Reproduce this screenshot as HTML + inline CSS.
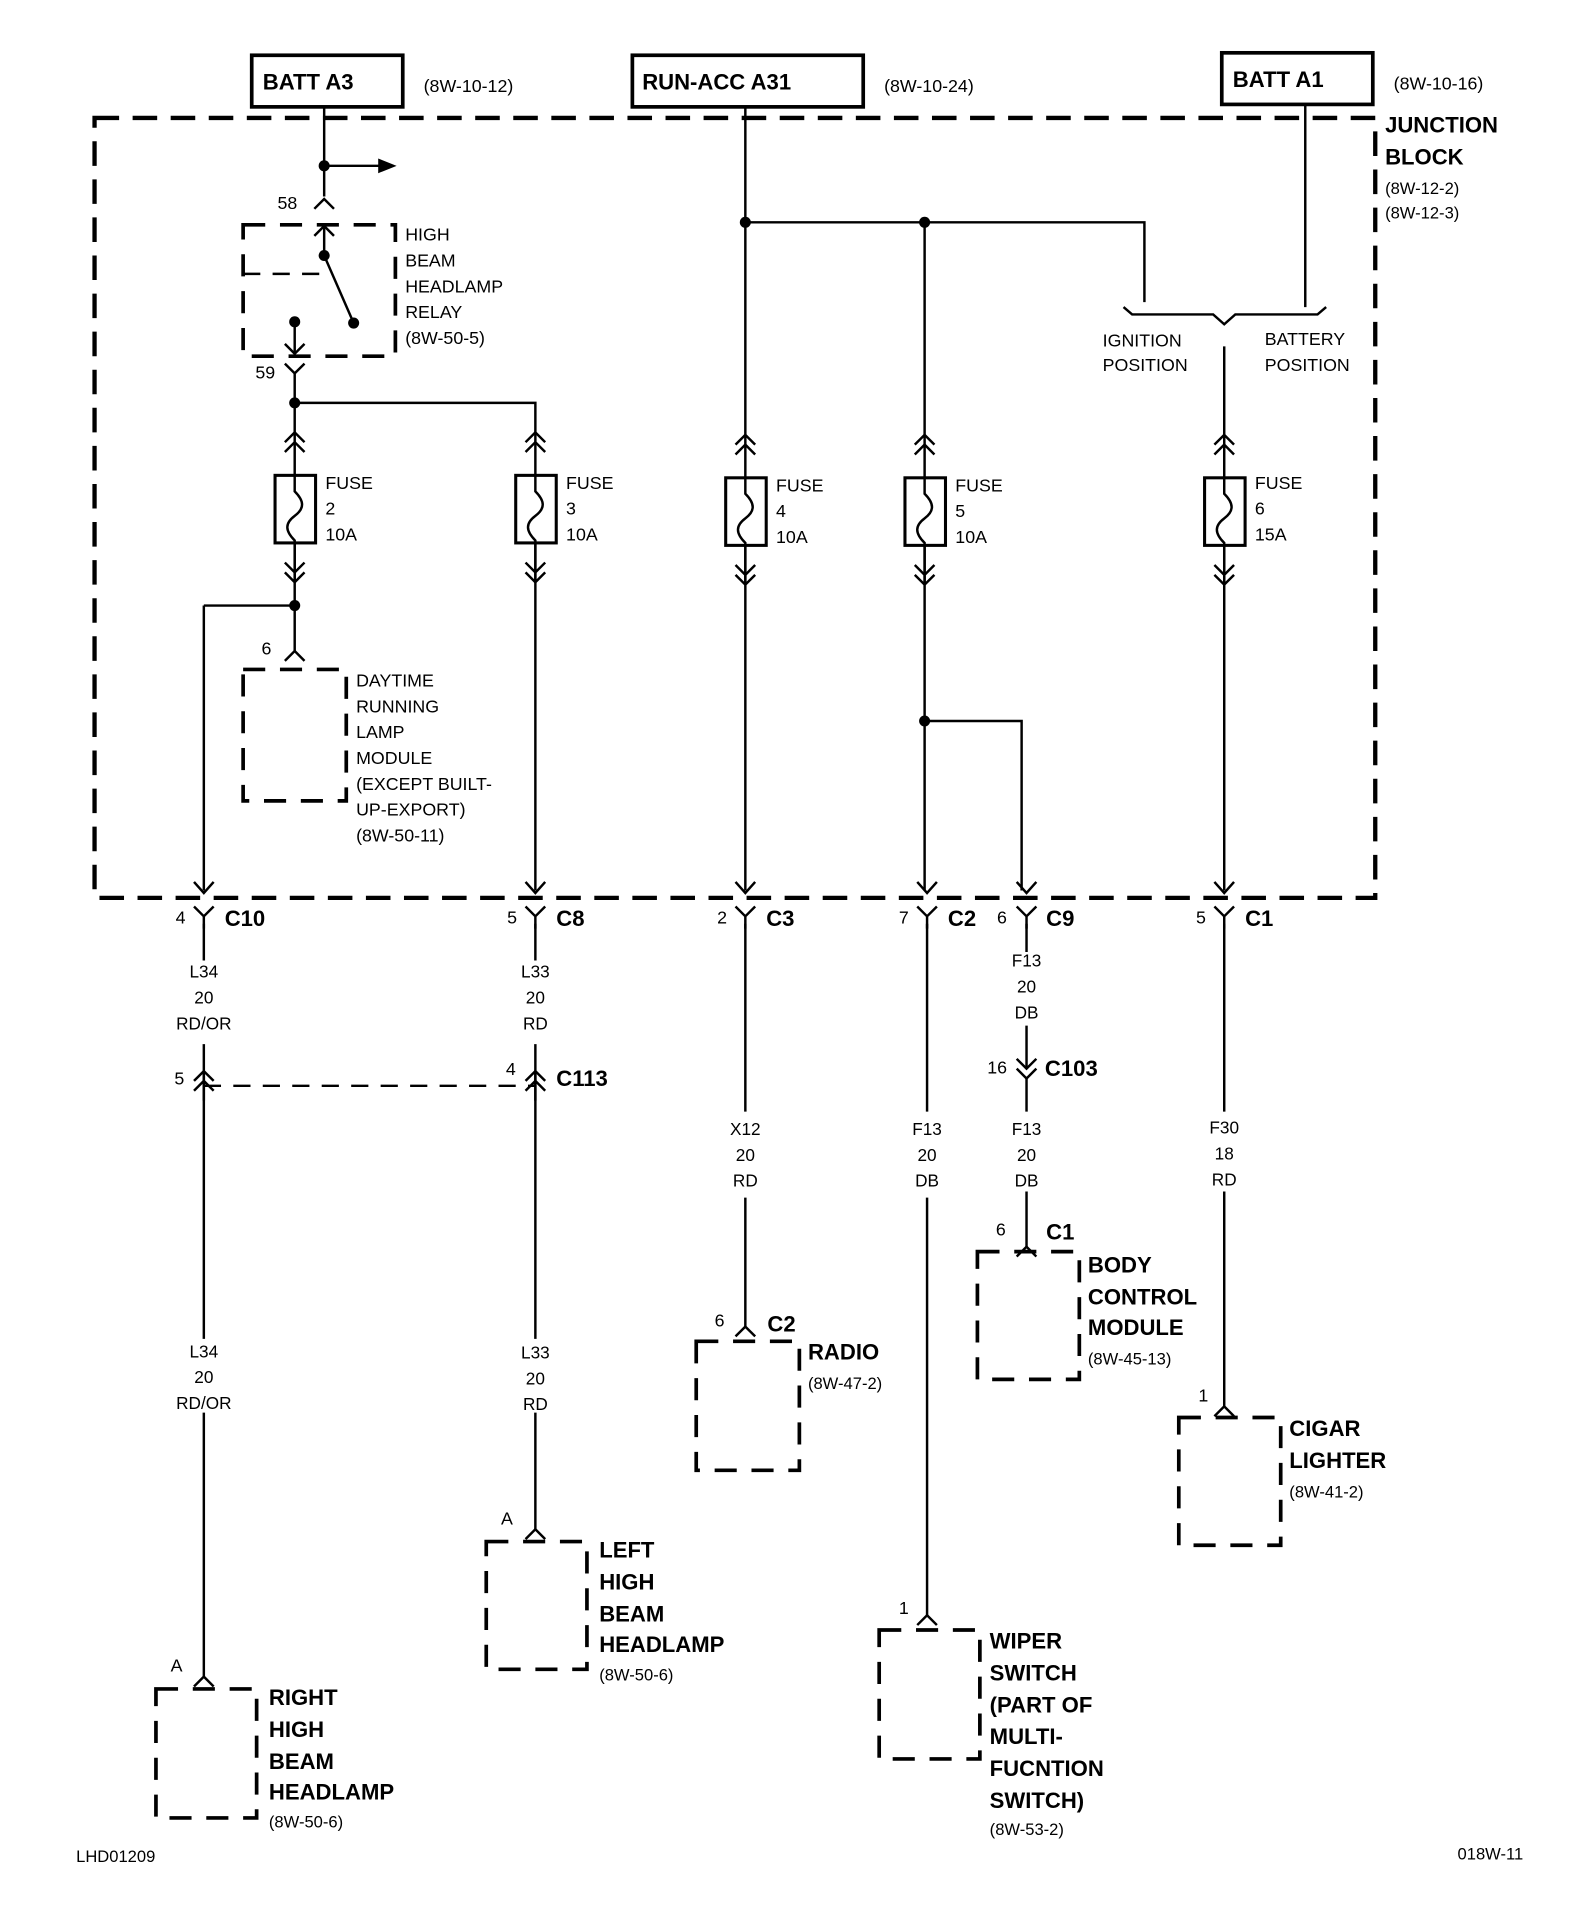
<!DOCTYPE html>
<html><head><meta charset="utf-8"><style>
html,body{margin:0;padding:0;background:#fff;}
svg{display:block;}
text{font-family:"Liberation Sans",sans-serif;fill:#000;}
.b{font-weight:bold;font-size:18px;}
.n{font-size:14.5px;}
.s{font-size:13.5px;}
.c{font-size:14px;text-anchor:middle;}
</style></head><body>
<svg width="1584" height="1926" viewBox="0 0 1290 1568" preserveAspectRatio="none" xmlns="http://www.w3.org/2000/svg">
<g fill="none" stroke="#000" stroke-width="2">
<rect x="205" y="45" width="123" height="42" stroke-width="3"/>
<rect x="515" y="45" width="188" height="42" stroke-width="3"/>
<rect x="995" y="43" width="123" height="42" stroke-width="3"/>
<rect x="77" y="96" width="1043" height="635" stroke-width="3.5" stroke-dasharray="20,11"/>

<path d="M264 87V160"/>
<path d="M264 135H310"/>
<path d="M256 170L264 162L272 170"/>
<rect x="198" y="183" width="124" height="107" stroke-width="3" stroke-dasharray="18,12"/>
<path d="M264 183V208L288 263"/>
<path d="M256 192L264 184L272 192"/>
<path d="M198 223H264" stroke-dasharray="14,10"/>
<path d="M240 262V288"/>
<path d="M232 280L240 288L248 280"/>
<path d="M232 296L240 304L248 296M240 304V328"/>
<path d="M240 328H436V352"/>

<path d="M240 328V387"/>
<path d="M240 442V493V530"/>
<path d="M166 493H240"/>
<path d="M166 493V725"/>
<path d="M232 538L240 530L248 538"/>
<rect x="198" y="545" width="84" height="107" stroke-width="3" stroke-dasharray="18,12"/>
<path d="M436 352V387M436 442V725"/>
<path d="M607 87V389M607 444V725"/>
<path d="M607 181H932V246"/>
<path d="M753 181V389M753 444V725"/>
<path d="M753 587H832V725"/>
<path d="M1063 85V250"/>
<path d="M915 250L922 256H988L997 264L1006 256H1073L1080 250"/>
<path d="M997 282V389M997 444V725"/>

<path d="M166 752V782M166 850V1090M166 1150V1365"/>
<path d="M436 752V782M436 850V1090M436 1150V1245"/>
<path d="M607 752V905M607 975V1080"/>
<path d="M755 752V905M755 975V1315"/>
<path d="M836 752V775M836 835V870M836 878V905M836 970V1015"/>
<path d="M997 752V905M997 970V1145"/>
<path d="M166 884H436" stroke-dasharray="14,10"/>

<rect x="567" y="1092" width="84" height="105" stroke-width="3" stroke-dasharray="18,12"/>
<rect x="796" y="1019" width="83" height="104" stroke-width="3" stroke-dasharray="18,12"/>
<rect x="960" y="1154" width="83" height="104" stroke-width="3" stroke-dasharray="18,12"/>
<rect x="396" y="1255" width="82" height="104" stroke-width="3" stroke-dasharray="18,12"/>
<rect x="127" y="1375" width="82" height="105" stroke-width="3" stroke-dasharray="18,12"/>
<rect x="716" y="1327" width="82" height="105" stroke-width="3" stroke-dasharray="18,12"/>

<path d="M599 1088L607 1080L615 1088"/>
<path d="M828 1023L836 1015L844 1023"/>
<path d="M989 1153L997 1145L1005 1153"/>
<path d="M428 1253L436 1245L444 1253"/>
<path d="M158 1373L166 1365L174 1373"/>
<path d="M747 1323L755 1315L763 1323"/>
</g>
<polygon points="308,129 323,135 308,141" fill="#000"/>
<g fill="#000">
<circle cx="264" cy="135" r="4.5"/><circle cx="264" cy="208" r="4.5"/><circle cx="288" cy="263" r="4.5"/>
<circle cx="240" cy="262" r="4.5"/><circle cx="240" cy="328" r="4.5"/><circle cx="240" cy="493" r="4.5"/>
<circle cx="607" cy="181" r="4.5"/><circle cx="753" cy="181" r="4.5"/><circle cx="753" cy="587" r="4.5"/>
</g>

<g fill="none" stroke="#000" stroke-width="2">
<g id="f1">
<path d="M232 360L240 352L248 360M232 368L240 360L248 368"/>
<rect x="224" y="387" width="33" height="55" stroke-width="2.5"/>
<path d="M240 387V400C248 408 248 414 240 420C232 426 232 432 240 440V442"/>
<path d="M232 458L240 466L248 458M232 466L240 474L248 466M240 442V474"/>
</g>
<use href="#f1" x="196"/>
<use href="#f1" x="367" y="2"/>
<use href="#f1" x="513" y="2"/>
<use href="#f1" x="757" y="2"/>
<path d="M158 880L166 872L174 880M158 888L166 880L174 888M166 872V896"/>
<path d="M428 880L436 872L444 880M428 888L436 880L444 888M436 872V896"/>
<path d="M828 862L836 870L844 862M828 870L836 878L844 870"/>
<g id="cn">
<path d="M158 718L166 727L174 718"/>
<path d="M158 738L166 746L174 738M166 746V756"/>
</g>
<use href="#cn" x="270"/><use href="#cn" x="441"/><use href="#cn" x="589"/><use href="#cn" x="670"/><use href="#cn" x="831"/>
</g>

<text class="b" x="214" y="73">BATT A3</text>
<text class="n" x="345" y="75">(8W-10-12)</text>
<text class="b" x="523" y="73">RUN-ACC A31</text>
<text class="n" x="720" y="75">(8W-10-24)</text>
<text class="b" x="1004" y="71">BATT A1</text>
<text class="n" x="1135" y="73">(8W-10-16)</text>
<text class="b" x="1128" y="108">JUNCTION</text>
<text class="b" x="1128" y="134">BLOCK</text>
<text class="s" x="1128" y="158">(8W-12-2)</text>
<text class="s" x="1128" y="178">(8W-12-3)</text>

<text class="n" x="226" y="170">58</text>
<text class="n" x="330" y="196">HIGH</text>
<text class="n" x="330" y="217">BEAM</text>
<text class="n" x="330" y="238">HEADLAMP</text>
<text class="n" x="330" y="259">RELAY</text>
<text class="n" x="330" y="280">(8W-50-5)</text>
<text class="n" x="208" y="308">59</text>

<text class="n" x="898" y="282">IGNITION</text>
<text class="n" x="898" y="302">POSITION</text>
<text class="n" x="1030" y="281">BATTERY</text>
<text class="n" x="1030" y="302">POSITION</text>

<text class="n" x="265" y="398">FUSE</text><text class="n" x="265" y="419">2</text><text class="n" x="265" y="440">10A</text>
<text class="n" x="461" y="398">FUSE</text><text class="n" x="461" y="419">3</text><text class="n" x="461" y="440">10A</text>
<text class="n" x="632" y="400">FUSE</text><text class="n" x="632" y="421">4</text><text class="n" x="632" y="442">10A</text>
<text class="n" x="778" y="400">FUSE</text><text class="n" x="778" y="421">5</text><text class="n" x="778" y="442">10A</text>
<text class="n" x="1022" y="398">FUSE</text><text class="n" x="1022" y="419">6</text><text class="n" x="1022" y="440">15A</text>

<text class="n" x="213" y="533">6</text>
<text class="n" x="290" y="559">DAYTIME</text>
<text class="n" x="290" y="580">RUNNING</text>
<text class="n" x="290" y="601">LAMP</text>
<text class="n" x="290" y="622">MODULE</text>
<text class="n" x="290" y="643">(EXCEPT BUILT-</text>
<text class="n" x="290" y="664">UP-EXPORT)</text>
<text class="n" x="290" y="685">(8W-50-11)</text>

<text class="n" x="143" y="752">4</text><text class="b" x="183" y="754">C10</text>
<text class="n" x="413" y="752">5</text><text class="b" x="453" y="754">C8</text>
<text class="n" x="584" y="752">2</text><text class="b" x="624" y="754">C3</text>
<text class="n" x="732" y="752">7</text><text class="b" x="772" y="754">C2</text>
<text class="n" x="812" y="752">6</text><text class="b" x="852" y="754">C9</text>
<text class="n" x="974" y="752">5</text><text class="b" x="1014" y="754">C1</text>

<text class="c" x="166" y="796">L34</text><text class="c" x="166" y="817">20</text><text class="c" x="166" y="838">RD/OR</text>
<text class="c" x="436" y="796">L33</text><text class="c" x="436" y="817">20</text><text class="c" x="436" y="838">RD</text>
<text class="c" x="836" y="787">F13</text><text class="c" x="836" y="808">20</text><text class="c" x="836" y="829">DB</text>
<text class="n" x="804" y="874">16</text><text class="b" x="851" y="876">C103</text>
<text class="n" x="142" y="883">5</text>
<text class="n" x="412" y="875">4</text><text class="b" x="453" y="884">C113</text>

<text class="c" x="607" y="924">X12</text><text class="c" x="607" y="945">20</text><text class="c" x="607" y="966">RD</text>
<text class="c" x="755" y="924">F13</text><text class="c" x="755" y="945">20</text><text class="c" x="755" y="966">DB</text>
<text class="c" x="836" y="924">F13</text><text class="c" x="836" y="945">20</text><text class="c" x="836" y="966">DB</text>
<text class="c" x="997" y="923">F30</text><text class="c" x="997" y="944">18</text><text class="c" x="997" y="965">RD</text>

<text class="c" x="166" y="1105">L34</text><text class="c" x="166" y="1126">20</text><text class="c" x="166" y="1147">RD/OR</text>
<text class="c" x="436" y="1106">L33</text><text class="c" x="436" y="1127">20</text><text class="c" x="436" y="1148">RD</text>

<text class="n" x="811" y="1006">6</text><text class="b" x="852" y="1009">C1</text>
<text class="b" x="886" y="1036">BODY</text>
<text class="b" x="886" y="1062">CONTROL</text>
<text class="b" x="886" y="1087">MODULE</text>
<text class="s" x="886" y="1111">(8W-45-13)</text>

<text class="n" x="582" y="1080">6</text><text class="b" x="625" y="1084">C2</text>
<text class="b" x="658" y="1107">RADIO</text>
<text class="s" x="658" y="1131">(8W-47-2)</text>

<text class="n" x="976" y="1141">1</text>
<text class="b" x="1050" y="1169">CIGAR</text>
<text class="b" x="1050" y="1195">LIGHTER</text>
<text class="s" x="1050" y="1219">(8W-41-2)</text>

<text class="n" x="408" y="1241">A</text>
<text class="b" x="488" y="1268">LEFT</text>
<text class="b" x="488" y="1294">HIGH</text>
<text class="b" x="488" y="1320">BEAM</text>
<text class="b" x="488" y="1345">HEADLAMP</text>
<text class="s" x="488" y="1368">(8W-50-6)</text>

<text class="n" x="732" y="1314">1</text>
<text class="b" x="806" y="1342">WIPER</text>
<text class="b" x="806" y="1368">SWITCH</text>
<text class="b" x="806" y="1394">(PART OF</text>
<text class="b" x="806" y="1420">MULTI-</text>
<text class="b" x="806" y="1446">FUCNTION</text>
<text class="b" x="806" y="1472">SWITCH)</text>
<text class="s" x="806" y="1494">(8W-53-2)</text>

<text class="n" x="139" y="1361">A</text>
<text class="b" x="219" y="1388">RIGHT</text>
<text class="b" x="219" y="1414">HIGH</text>
<text class="b" x="219" y="1440">BEAM</text>
<text class="b" x="219" y="1465">HEADLAMP</text>
<text class="s" x="219" y="1488">(8W-50-6)</text>

<text class="s" x="62" y="1516">LHD01209</text>
<text class="s" x="1187" y="1514">018W-11</text>
</svg>
</body></html>
